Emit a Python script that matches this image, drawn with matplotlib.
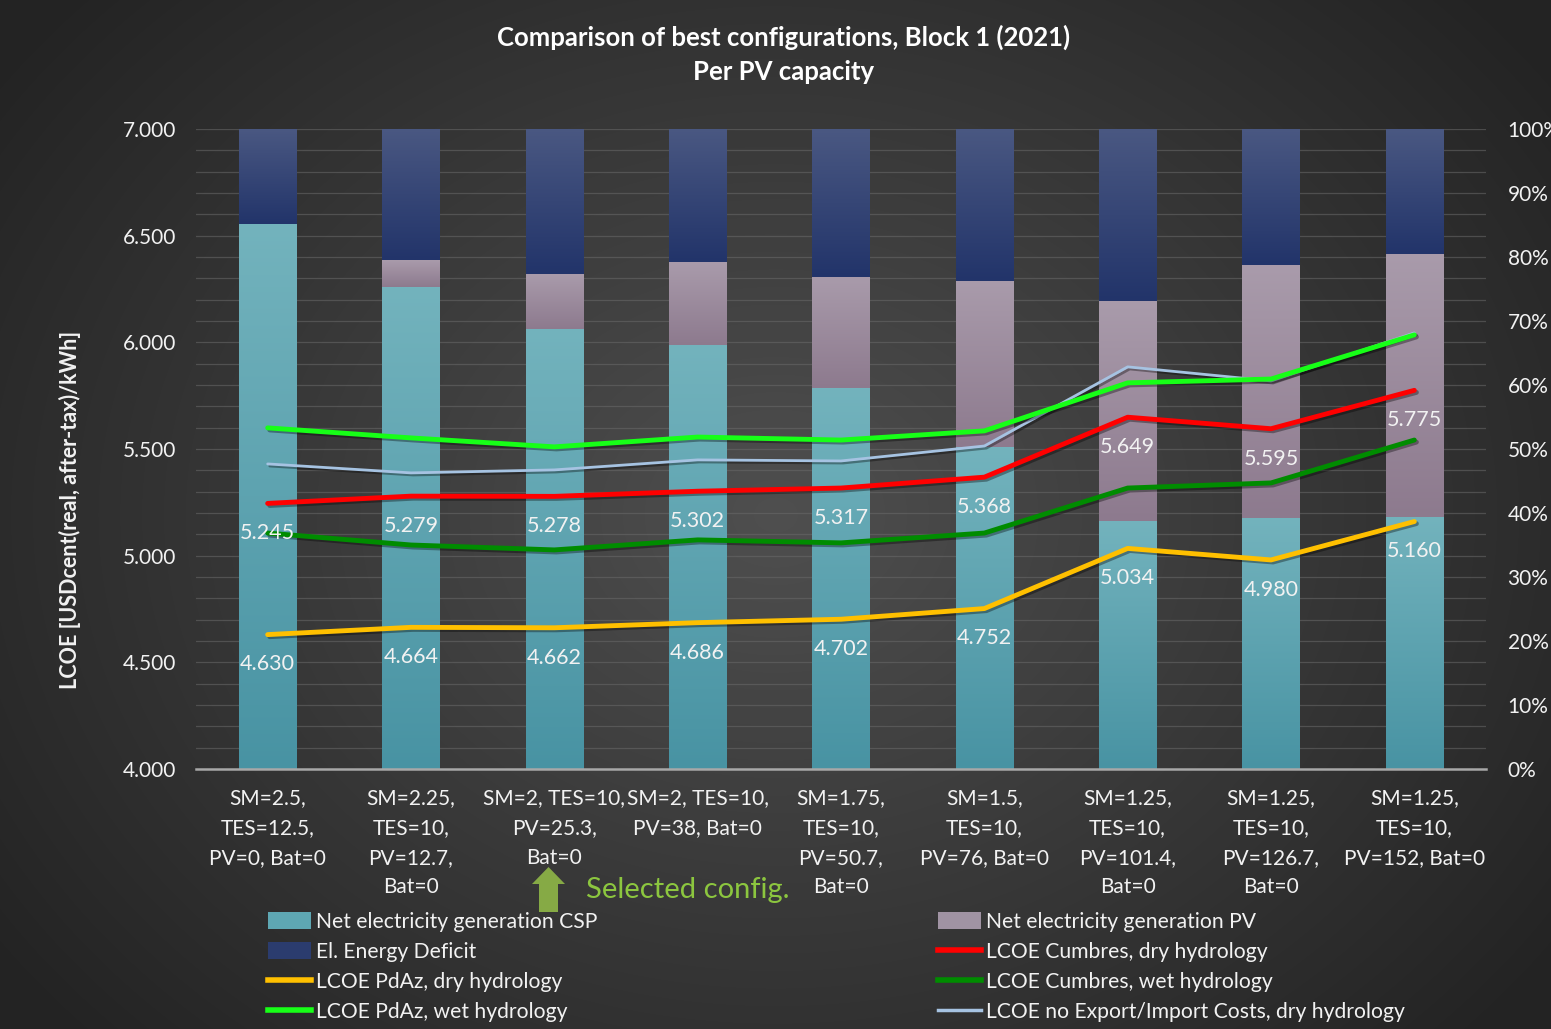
import numpy as np
import matplotlib
matplotlib.use("Agg")
import matplotlib.pyplot as plt
from matplotlib.lines import Line2D
from matplotlib.patches import Patch, FancyArrow
from matplotlib.colors import LinearSegmentedColormap, to_rgb
import matplotlib.patheffects as pe

# ---------------- data ----------------
categories = [
    "SM=2.5,\nTES=12.5,\nPV=0, Bat=0",
    "SM=2.25,\nTES=10,\nPV=12.7,\nBat=0",
    "SM=2, TES=10,\nPV=25.3,\nBat=0",
    "SM=2, TES=10,\nPV=38, Bat=0",
    "SM=1.75,\nTES=10,\nPV=50.7,\nBat=0",
    "SM=1.5,\nTES=10,\nPV=76, Bat=0",
    "SM=1.25,\nTES=10,\nPV=101.4,\nBat=0",
    "SM=1.25,\nTES=10,\nPV=126.7,\nBat=0",
    "SM=1.25,\nTES=10,\nPV=152, Bat=0",
]
# stacked shares (%)
gen_csp = [85.2, 75.3, 68.8, 66.3, 59.5, 50.3, 38.8, 39.2, 39.4]
gen_pv = [0.0, 4.2, 8.5, 12.9, 17.4, 25.9, 34.3, 39.5, 41.1]
deficit = [14.8, 20.5, 22.7, 20.8, 23.1, 23.8, 26.9, 21.3, 19.5]

# LCOE lines [USDcent/kWh]
lcoe_pdaz_dry = [4.630, 4.664, 4.662, 4.686, 4.702, 4.752, 5.034, 4.980, 5.160]
lcoe_cumbres_dry = [5.245, 5.279, 5.278, 5.302, 5.317, 5.368, 5.649, 5.595, 5.775]
lcoe_cumbres_wet = [5.106, 5.050, 5.027, 5.074, 5.060, 5.106, 5.317, 5.341, 5.542]
lcoe_pdaz_wet = [5.599, 5.552, 5.510, 5.556, 5.542, 5.585, 5.810, 5.828, 6.035]
lcoe_no_export = [5.430, 5.388, 5.402, 5.449, 5.444, 5.514, 5.885, 5.819, 6.044]

left_ticks = [4.0, 4.5, 5.0, 5.5, 6.0, 6.5, 7.0]
right_ticks = [0, 10, 20, 30, 40, 50, 60, 70, 80, 90, 100]

title = "Comparison of best configurations, Block 1 (2021)\nPer PV capacity"
ylabel = "LCOE [USDcent(real, after-tax)/kWh]"
selected_text = "Selected config."

# ---------------- style ----------------
FONT = ["Lato", "DejaVu Sans"]
plt.rcParams["font.family"] = FONT
W, H, DPI = 1551, 1029, 100
fig = plt.figure(figsize=(W / DPI, H / DPI), dpi=DPI)

# radial gradient background
bg = fig.add_axes([0, 0, 1, 1], zorder=-10)
yy, xx = np.mgrid[0:H, 0:W]
r = np.sqrt(((xx - W * 0.5) / (W * 0.62)) ** 2 + ((yy - H * 0.5) / (H * 0.75)) ** 2)
r = np.clip(r, 0, 1)
c_in = np.array(to_rgb("#4f4f4f"))
c_out = np.array(to_rgb("#232323"))
img = c_in[None, None, :] * (1 - r[..., None]) + c_out[None, None, :] * r[..., None]
bg.imshow(img, extent=[0, W, H, 0], aspect="auto")
bg.set_xlim(0, W)
bg.set_ylim(H, 0)
bg.axis("off")

L, R, B, T = 196, 1486, 769, 129
ax2 = fig.add_axes([L / W, 1 - B / H, (R - L) / W, (B - T) / H])
ax = ax2.twinx()
ax.set_zorder(ax2.get_zorder() + 1)
ax.patch.set_visible(False)
ax2.patch.set_visible(False)

x = np.arange(len(categories))
bw = 0.4

# gridlines (behind bars) on ax2
for g in np.linspace(0, 100, 31)[1:]:
    ax2.axhline(g, color="#6a6a6a", lw=0.9, alpha=0.55, zorder=0)


def grad_bar(axis, xs, heights, bottoms, top_col, bot_col, zorder=2):
    bars = axis.bar(xs, heights, bw, bottom=bottoms, color=bot_col, zorder=zorder, linewidth=0)
    cmap = LinearSegmentedColormap.from_list("g", [bot_col, top_col])
    grad = np.linspace(0, 1, 256).reshape(-1, 1)
    for p in bars:
        if p.get_height() <= 0:
            continue
        x0, y0 = p.get_x(), p.get_y()
        im = axis.imshow(grad, cmap=cmap, aspect="auto", origin="lower",
                         extent=[x0, x0 + p.get_width(), y0, y0 + p.get_height()],
                         zorder=zorder + 0.1)
        im.set_clip_path(p)
    return bars

csp_b = np.zeros(len(x))
pv_b = np.array(gen_csp)
def_b = np.array(gen_csp) + np.array(gen_pv)
grad_bar(ax2, x, gen_csp, csp_b, "#73b3bd", "#4893a3")
grad_bar(ax2, x, gen_pv, pv_b, "#a99bab", "#8d7a8e")
grad_bar(ax2, x, deficit, def_b, "#4a5882", "#22346a")
ax2.set_xlim(-0.5, len(categories) - 0.5)
ax2.set_ylim(0, 100)

# lines on ax (primary)
shadow = [pe.SimpleLineShadow(offset=(1.5, -1.5), shadow_color="black", alpha=0.35), pe.Normal()]
ax.plot(x, lcoe_no_export, color="#a6c3e2", lw=2.0, zorder=5, path_effects=shadow, solid_capstyle="round")
ax.plot(x, lcoe_pdaz_wet, color="#17ff17", lw=3.5, zorder=6, path_effects=shadow, solid_capstyle="round")
ax.plot(x, lcoe_cumbres_dry, color="#ff0000", lw=3.5, zorder=6, path_effects=shadow, solid_capstyle="round")
ax.plot(x, lcoe_cumbres_wet, color="#008c00", lw=3.5, zorder=6, path_effects=shadow, solid_capstyle="round")
ax.plot(x, lcoe_pdaz_dry, color="#ffc000", lw=3.5, zorder=6, path_effects=shadow, solid_capstyle="round")

for xi, v in zip(x, lcoe_cumbres_dry):
    ax.annotate(f"{v:.3f}", (xi, v), xytext=(0, -21.5), textcoords="offset points",
                ha="center", va="center", color="#f2f2f2", fontsize=15.5, zorder=7)
for xi, v in zip(x, lcoe_pdaz_dry):
    ax.annotate(f"{v:.3f}", (xi, v), xytext=(0, -21.5), textcoords="offset points",
                ha="center", va="center", color="#f2f2f2", fontsize=15.5, zorder=7)

ax.set_ylim(4.0, 7.0)

# primary axis on the left, percentage on the right
ax.yaxis.tick_left()
ax.set_yticks(left_ticks)
ax.set_yticklabels([f"{t:.3f}" for t in left_ticks])
ax2.yaxis.tick_right()
ax2.set_yticks(right_ticks)
ax2.set_yticklabels([f"{t}%" for t in right_ticks])

ax2.set_xticks(x)
ax2.set_xticklabels(categories, linespacing=1.6)
ax2.set_xlim(-0.5, len(categories) - 0.5)

for a in (ax, ax2):
    for s in a.spines.values():
        s.set_visible(False)
    a.tick_params(length=0, colors="#f2f2f2", labelsize=15)
ax.tick_params(axis="y", pad=14)
ax2.tick_params(axis="y", pad=15.5)
ax2.tick_params(axis="x", pad=14, labelsize=15)
ax2.spines["bottom"].set_visible(True)
ax2.spines["bottom"].set_color("#a8a8a8")
ax2.spines["bottom"].set_linewidth(1.8)
ax2.spines["bottom"].set_zorder(10)

# y label
fig.text(70 / W, 1 - 510 / H, ylabel, rotation=90, ha="center", va="center",
         color="#f2f2f2", fontsize=15.5, fontweight="bold")

# title
fig.text(0.5055, 1 - 54.5 / H, title, ha="center", va="center", color="white",
         fontsize=18.5, fontweight="bold", linespacing=1.5)

# overlay for annotation (pixel coordinates)
ov = fig.add_axes([0, 0, 1, 1], zorder=20)
ov.set_xlim(0, W)
ov.set_ylim(H, 0)
ov.axis("off")
arr = FancyArrow(548.5, 912, 0, -45, width=19, head_width=33, head_length=17,
                 length_includes_head=True, color="#86aa45", lw=0)
ov.add_patch(arr)
ov.text(586, 890, selected_text, ha="left", va="center", color="#8cc63f", fontsize=21)

# legends
h_csp = Patch(facecolor="#5ea7b3", edgecolor="none")
h_pv = Patch(facecolor="#a093a3", edgecolor="none")
h_def = Patch(facecolor="#2b3c6e", edgecolor="none")
h_red = Line2D([], [], color="#ff0000", lw=4)
h_yel = Line2D([], [], color="#ffc000", lw=4)
h_dg = Line2D([], [], color="#008c00", lw=4)
h_bg = Line2D([], [], color="#17ff17", lw=4)
h_lb = Line2D([], [], color="#a6c3e2", lw=2.5)

leg_kw = dict(frameon=False, fontsize=15.2, labelcolor="#f2f2f2", handlelength=2.05,
              handleheight=0.85, handletextpad=0.2, labelspacing=0.47, borderaxespad=0,
              borderpad=0)
fig.legend([h_csp, h_def, h_yel, h_bg],
           ["Net electricity generation CSP", "El. Energy Deficit",
            "LCOE PdAz, dry hydrology", "LCOE PdAz, wet hydrology"],
           loc="upper left", bbox_to_anchor=(268 / W, 1 - 912 / H), **leg_kw)
fig.legend([h_pv, h_red, h_dg, h_lb],
           ["Net electricity generation PV", "LCOE Cumbres, dry hydrology",
            "LCOE Cumbres, wet hydrology", "LCOE no Export/Import Costs, dry hydrology"],
           loc="upper left", bbox_to_anchor=(938 / W, 1 - 912 / H), **leg_kw)

fig.savefig("out.png", dpi=DPI)
